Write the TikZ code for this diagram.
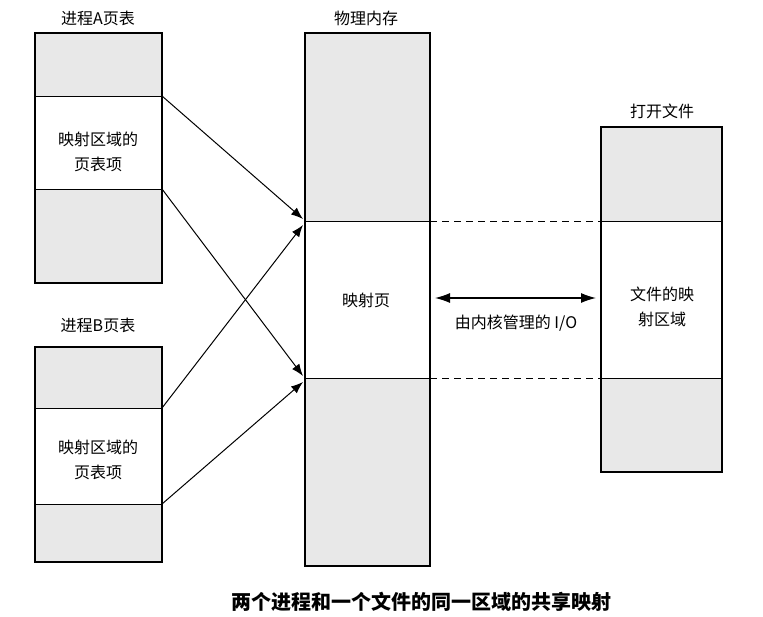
\documentclass[tikz,border=0pt]{standalone}
\usepackage{fontspec}
\setmainfont{Noto Sans CJK SC}
\usetikzlibrary{arrows.meta}
\begin{document}
\begin{tikzpicture}[x=1pt,y=-1pt,
  graybox/.style={fill=black!9,draw=none},
  outline/.style={draw=black,line width=1.6pt},
  divider/.style={draw=black,line width=0.7pt},
  lbl/.style={font=\fontsize{16}{25}\selectfont,align=center},
  ttl/.style={font=\fontsize{16}{20}\selectfont},
  conn/.style={draw=black,line width=1pt,-{Latex[length=12pt,width=9pt]}},
  dashline/.style={draw=black,line width=0.7pt,dash pattern=on 7pt off 5pt}]
\useasboundingbox (0,0) rectangle (763,617);
% Process A
\fill[graybox] (35,33) rectangle (162,96);
\fill[graybox] (35,189) rectangle (162,283);
\draw[divider] (35,96) -- (162,96) (35,189) -- (162,189);
\draw[outline] (35,33) rectangle (162,283);
\coordinate (a1) at (162,96);
\coordinate (a2) at (162,189);
\node[ttl] (ta) at (98,18) {进程A页表};
\node[lbl] (ma) at (98,152) {映射区域的\\页表项};
% Process B
\fill[graybox] (35,347) rectangle (162,408);
\fill[graybox] (35,504) rectangle (162,562);
\draw[divider] (35,408) -- (162,408) (35,504) -- (162,504);
\draw[outline] (35,347) rectangle (162,562);
\coordinate (b1) at (162,408);
\coordinate (b2) at (162,504);
\node[ttl] (tb) at (98,325) {进程B页表};
\node[lbl] (mb) at (98,460) {映射区域的\\页表项};
% Physical memory
\fill[graybox] (305,33) rectangle (430,221);
\fill[graybox] (305,378) rectangle (430,566);
\draw[divider] (305,221) -- (430,221) (305,378) -- (430,378);
\draw[outline] (305,33) rectangle (430,566);
\node[ttl] (tm) at (366,18) {物理内存};
\node[lbl] (mp) at (366,300) {映射页};
\coordinate (p1) at (303,219);
\coordinate (p2) at (303,225);
\coordinate (p3) at (303,376);
\coordinate (p4) at (303,382);
\coordinate (pr1) at (430,221);
\coordinate (pr2) at (430,378);
% File
\fill[graybox] (601,127) rectangle (722,221);
\fill[graybox] (601,378) rectangle (722,472);
\draw[divider] (601,221) -- (722,221) (601,378) -- (722,378);
\draw[outline] (601,127) rectangle (722,472);
\node[ttl] (tf) at (662,111) {打开文件};
\node[lbl] (mf) at (662,307) {文件的映\\射区域};
\coordinate (f1) at (601,221);
\coordinate (f2) at (601,378);
% connectors
\draw[conn] (a1) -- (p1);
\draw[conn] (a2) -- (p3);
\draw[conn] (b1) -- (p2);
\draw[conn] (b2) -- (p4);
\draw[dashline] (pr1) -- (f1);
\draw[dashline] (pr2) -- (f2);
\coordinate (io1) at (435,298);
\coordinate (io2) at (596,298);
\draw[draw=black,line width=1.2pt,{Latex[length=15pt,width=10pt]}-{Latex[length=15pt,width=10pt]}] (io1) -- (io2);
\node[ttl] (io) at (516,323) {由内核管理的 I/O};
\node[font=\fontsize{20}{24}\selectfont\bfseries] (cap) at (421,602) {两个进程和一个文件的同一区域的共享映射};
\end{tikzpicture}
\end{document}
